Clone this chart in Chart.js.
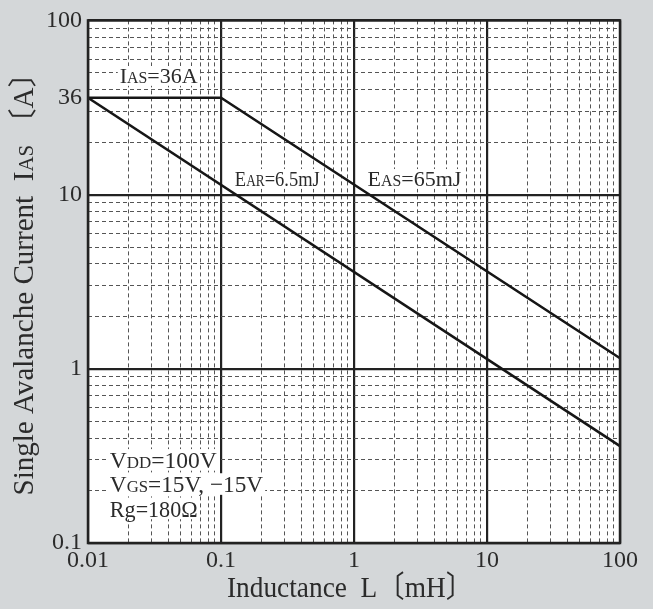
<!DOCTYPE html>
<html>
<head>
<meta charset="utf-8">
<script src="https://cdn.jsdelivr.net/npm/chart.js@4.4.0/dist/chart.umd.min.js"></script>
<style>
  html, body { margin: 0; padding: 0; background: #d4d7d9; }
  canvas { display: block; }
</style>
</head>
<body>
<canvas id="iasChart" width="653" height="609"></canvas>
<script>
// Axis decades and labelled ticks
const xMajors = [0.01, 0.1, 1, 10, 100];       // Inductance L (mH)
const yMajors = [0.1, 1, 10, 100];             // Current IAS (A)
const yLabelled = [0.1, 1, 10, 36, 100];
const minorSteps = [2, 3, 4, 5, 6, 7, 8, 9];

// Avalanche limit lines
const easL = [0.01, 0.1, 100];
const easI = [36, 36, 1.15];
const earL = [0.01, 100];
const earI = [36, 0.36];

const ink = '#2b2b2b';
const family = '"Liberation Serif", "Noto Sans CJK JP", serif';
const serif = s => `${s}px ${family}`;

function isMajor(v) {
    const l = Math.log10(v);
    return Math.abs(l - Math.round(l)) < 1e-6;
}

function logTicks(majors, extra) {
    const out = [];
    majors.forEach((m, i) => {
        out.push(m);
        if (i < majors.length - 1) minorSteps.forEach(k => out.push(+(m * k).toPrecision(3)));
    });
    (extra || []).forEach(v => out.push(v));
    return out.sort((a, b) => a - b).map(v => ({ value: v }));
}

function toPoints(xs, ys) {
    return xs.map((x, i) => ({ x: x, y: ys[i] }));
}

// text helpers (mixed sizes for the small-cap subscripts)
function richWidth(ctx, parts, size) {
    let w = 0;
    parts.forEach(([t, s]) => { ctx.font = serif(size * s); w += ctx.measureText(t).width; });
    return w;
}
// draws parts with baseline at y; sx squeezes horizontally
function drawRich(ctx, parts, x, y, size, align, sx) {
    sx = sx || 1;
    const w = richWidth(ctx, parts, size) * sx;
    const left = align === 'center' ? x - w / 2 : x;
    ctx.save();
    ctx.translate(left, y);
    ctx.scale(sx, 1);
    ctx.textBaseline = 'alphabetic';
    ctx.textAlign = 'left';
    let cx = 0;
    parts.forEach(([t, s]) => {
        ctx.font = serif(size * s);
        ctx.fillText(t, cx, 0);
        cx += ctx.measureText(t).width;
    });
    ctx.restore();
}

const labels = [
    { x: 0.034, y: 48, align: 'center', size: 22, sq: 1, parts: [['I', 1], ['AS', 0.72], ['=36A', 1]] },
    { x: 0.265, y: 12.3, align: 'center', size: 22, sq: 0.84, parts: [['E', 1], ['AR', 0.72], ['=6.5mJ', 1]] },
    { x: 2.85, y: 12.3, align: 'center', size: 22, sq: 1, parts: [['E', 1], ['AS', 0.72], ['=65mJ', 1]] },
    { x: 0.0146, y: 0.30, align: 'left', size: 24, sq: 0.98, parts: [['V', 1], ['DD', 0.72], ['=100V', 1]] },
    { x: 0.0146, y: 0.218, align: 'left', size: 24, sq: 0.97, parts: [['V', 1], ['GS', 0.72], ['=15V, \u221215V', 1]] },
    { x: 0.0146, y: 0.158, align: 'left', size: 24, sq: 0.92, parts: [['Rg=180\u03A9', 1]] }
];

const paper = {
    id: 'paper',
    beforeDraw(chart) {
        const { ctx, chartArea: a } = chart;
        ctx.save();
        ctx.fillStyle = '#ffffff';
        ctx.fillRect(a.left, a.top, a.right - a.left, a.bottom - a.top);
        ctx.restore();
    },
    beforeDatasetsDraw(chart) {
        const { ctx, scales } = chart;
        ctx.save();
        ctx.fillStyle = '#ffffff';
        labels.forEach(l => {
            const px = scales.x.getPixelForValue(l.x);
            const py = scales.y.getPixelForValue(l.y);
            const w = richWidth(ctx, l.parts, l.size) * l.sq;
            const left = l.align === 'center' ? px - w / 2 : px;
            ctx.fillRect(left - 2, py - l.size * 0.45, w + 4, l.size * 0.9);
        });
        ctx.restore();
    },
    afterDatasetsDraw(chart) {
        const { ctx, scales, chartArea: a } = chart;
        ctx.save();
        ctx.fillStyle = ink;
        labels.forEach(l => {
            const px = scales.x.getPixelForValue(l.x);
            const py = scales.y.getPixelForValue(l.y);
            drawRich(ctx, l.parts, px, py + l.size * 0.34, l.size, l.align, l.sq);
        });
        // frame
        ctx.strokeStyle = '#222';
        ctx.lineWidth = 2.5;
        ctx.strokeRect(a.left, a.top, a.right - a.left, a.bottom - a.top);

        // axis titles, fitted to the lengths in the original
        ctx.fillStyle = ink;
        const xt = [['Inductance  L\u3014mH\u3015', 1]];
        drawRich(ctx, xt, 350, 597, 30, 'center', 246 / richWidth(ctx, xt, 30));
        const yt = [['Single Avalanche Current  I', 1], ['AS', 0.72], [' \u3014A\u3015', 1]];
        ctx.translate(33, 277);
        ctx.rotate(-Math.PI / 2);
        drawRich(ctx, yt, 0, 0, 29, 'center', 437 / richWidth(ctx, yt, 29));
        ctx.restore();
    }
};

const gridColor = c => {
    const v = c.tick && c.tick.value;
    if (v === 36) return 'rgba(0,0,0,0)';
    return isMajor(v) ? '#222' : '#555';
};
const gridWidth = c => (c.tick && isMajor(c.tick.value) ? 2.2 : 1);
const gridDash = c => (c.tick && !isMajor(c.tick.value) ? [4, 3] : []);

const iasCtx = document.getElementById('iasChart').getContext('2d');
const iasChart = new Chart(iasCtx, {
    type: 'scatter',
    data: {
        datasets: [{
            label: 'EAS',
            data: toPoints(easL, easI),
            showLine: true,
            borderColor: '#161616',
            borderWidth: 2.5,
            pointRadius: 0,
            fill: false
        }, {
            label: 'EAR',
            data: toPoints(earL, earI),
            showLine: true,
            borderColor: '#161616',
            borderWidth: 2.5,
            pointRadius: 0,
            fill: false
        }]
    },
    options: {
        responsive: false,
        animation: false,
        layout: { padding: { top: 14, right: 33, left: 0, bottom: 0 } },
        plugins: {
            legend: { display: false },
            tooltip: { enabled: false }
        },
        scales: {
            x: {
                type: 'logarithmic',
                min: 0.01,
                max: 100,
                afterBuildTicks: s => { s.ticks = logTicks(xMajors); },
                afterFit: s => { s.height = 66; },
                ticks: {
                    autoSkip: false,
                    maxRotation: 0,
                    padding: 3,
                    color: ink,
                    font: { family: family, size: 24 },
                    callback: v => (xMajors.includes(v) ? String(v) : '')
                },
                grid: { color: gridColor, lineWidth: gridWidth, drawTicks: false },
                border: { display: false, dash: gridDash }
            },
            y: {
                type: 'logarithmic',
                min: 0.1,
                max: 100,
                afterBuildTicks: s => { s.ticks = logTicks(yMajors, [36]); },
                afterFit: s => { s.width = 88; },
                ticks: {
                    autoSkip: false,
                    padding: 6,
                    color: ink,
                    font: { family: family, size: 24 },
                    callback: v => (yLabelled.includes(v) ? String(v) : '')
                },
                grid: { color: gridColor, lineWidth: gridWidth, drawTicks: false },
                border: { display: false, dash: gridDash }
            }
        }
    },
    plugins: [paper]
});
</script>
</body>
</html>
